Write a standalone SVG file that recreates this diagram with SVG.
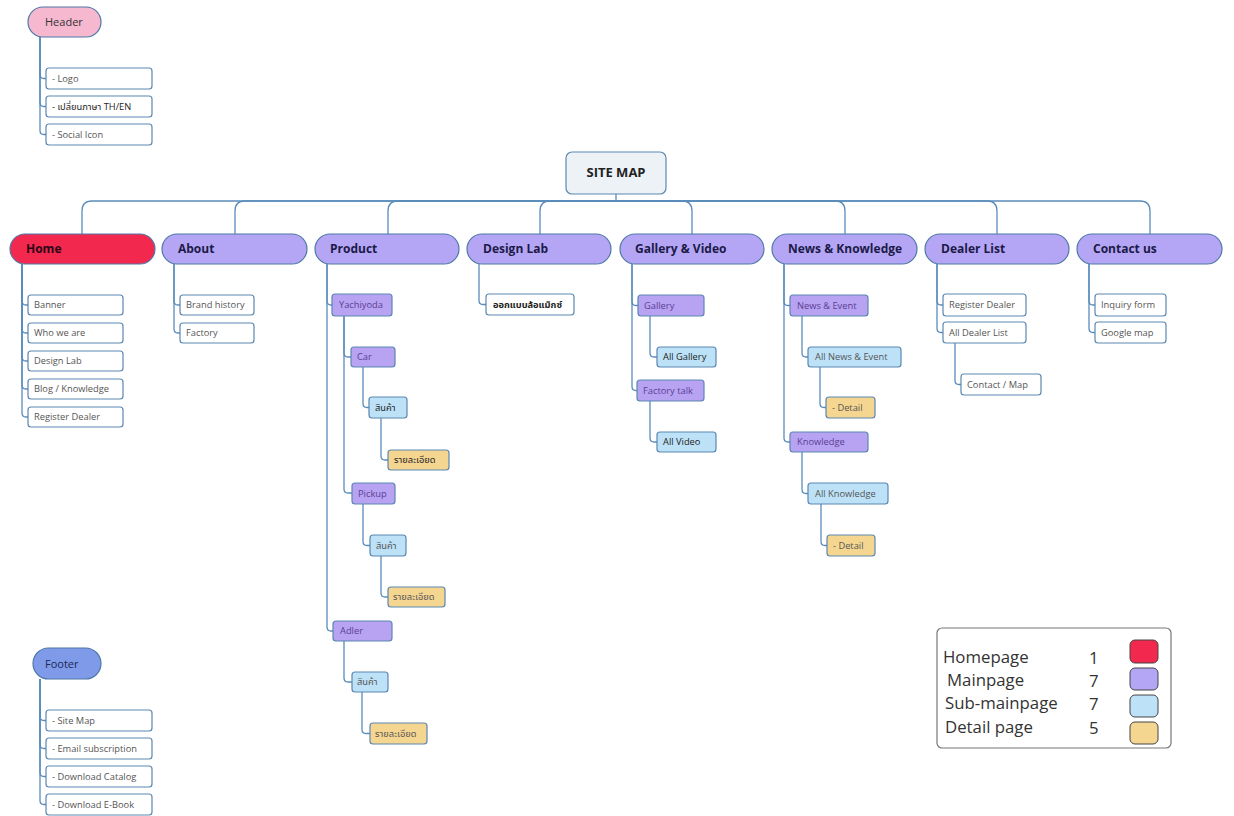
<svg xmlns="http://www.w3.org/2000/svg" width="1234" height="816" viewBox="0 0 1234 816">
<style>
.conn{fill:none;stroke:#5a8cba;stroke-width:1.3}
.pill{stroke:#4f79a6;stroke-width:1.2}
.bx{stroke:#5b87b2;stroke-width:1.2}
.w{fill:#ffffff}.p{fill:#b8a2f2}.b{fill:#bde2f8}.y{fill:#f5d691}
.mt{font-family:"Open Sans","Noto Sans","Noto Sans Thai",sans-serif;font-size:12px;font-weight:bold;fill:#1b1a48}
.st{font-family:"Open Sans","Noto Sans","Noto Sans Thai",sans-serif;font-size:9.3px;fill:#555}
.pt{fill:#5a3f92}
.dk{fill:#222}
.lg{font-family:"Open Sans","Noto Sans",sans-serif;font-size:16.8px;fill:#333}
</style>
<rect width="1234" height="816" fill="#ffffff"/>
<g id="connectors">
<path class="conn" d="M616 194V201H92Q82 201 82 211V234"/>
<path class="conn" d="M616 201H245Q235 201 235 211V234"/>
<path class="conn" d="M616 201H398Q388 201 388 211V234"/>
<path class="conn" d="M616 201H550Q540 201 540 211V234"/>
<path class="conn" d="M616 201H682Q692 201 692 211V234"/>
<path class="conn" d="M616 201H835Q845 201 845 211V234"/>
<path class="conn" d="M616 201H987Q997 201 997 211V234"/>
<path class="conn" d="M616 201H1140Q1150 201 1150 211V234"/>
<path class="conn" d="M40 37V74.5Q40 78.5 44 78.5H46"/>
<path class="conn" d="M40 37V102.5Q40 106.5 44 106.5H46"/>
<path class="conn" d="M40 37V130.5Q40 134.5 44 134.5H46"/>
<path class="conn" d="M22 264V301Q22 305 26 305H28"/>
<path class="conn" d="M22 264V329Q22 333 26 333H28"/>
<path class="conn" d="M22 264V357Q22 361 26 361H28"/>
<path class="conn" d="M22 264V385Q22 389 26 389H28"/>
<path class="conn" d="M22 264V413Q22 417 26 417H28"/>
<path class="conn" d="M174 264V301Q174 305 178 305H180"/>
<path class="conn" d="M174 264V329Q174 333 178 333H180"/>
<path class="conn" d="M327 264V301Q327 305 331 305H332"/>
<path class="conn" d="M327 264V627Q327 631 331 631H333"/>
<path class="conn" d="M344 316V353Q344 357 348 357H351"/>
<path class="conn" d="M344 316V489Q344 493 348 493H352"/>
<path class="conn" d="M363 367V403.5Q363 407.5 367 407.5H369"/>
<path class="conn" d="M381 418V456Q381 460 385 460H388"/>
<path class="conn" d="M363 504V541.5Q363 545.5 367 545.5H370"/>
<path class="conn" d="M381 556V593Q381 597 385 597H388"/>
<path class="conn" d="M344 641V678Q344 682 348 682H352"/>
<path class="conn" d="M362 692V729.5Q362 733.5 366 733.5H370"/>
<path class="conn" d="M479 264V300.5Q479 304.5 483 304.5H486"/>
<path class="conn" d="M632 264V301.5Q632 305.5 636 305.5H638"/>
<path class="conn" d="M632 264V386.5Q632 390.5 636 390.5H637"/>
<path class="conn" d="M650 316V353Q650 357 654 357H657"/>
<path class="conn" d="M650 401V438Q650 442 654 442H657"/>
<path class="conn" d="M784 264V301.5Q784 305.5 788 305.5H790"/>
<path class="conn" d="M784 264V438Q784 442 788 442H790"/>
<path class="conn" d="M802 316V353Q802 357 806 357H808"/>
<path class="conn" d="M820 367V403.5Q820 407.5 824 407.5H826"/>
<path class="conn" d="M802 452V489.5Q802 493.5 806 493.5H808"/>
<path class="conn" d="M821 504V541.5Q821 545.5 825 545.5H827"/>
<path class="conn" d="M937 264V301Q937 305 941 305H943"/>
<path class="conn" d="M937 264V328.5Q937 332.5 941 332.5H943"/>
<path class="conn" d="M955 343V380.5Q955 384.5 959 384.5H961"/>
<path class="conn" d="M1089 264V301Q1089 305 1093 305H1095"/>
<path class="conn" d="M1089 264V328.5Q1089 332.5 1093 332.5H1095"/>
<path class="conn" d="M40 679V716.5Q40 720.5 44 720.5H46"/>
<path class="conn" d="M40 679V744.5Q40 748.5 44 748.5H46"/>
<path class="conn" d="M40 679V772.5Q40 776.5 44 776.5H46"/>
<path class="conn" d="M40 679V800.5Q40 804.5 44 804.5H46"/>
</g>

<g id="header">
<rect class="pill" x="28" y="7" width="73" height="30" rx="15" fill="#f5b8cf"/>
<text x="45" y="26" class="st" style="font-size:11px;fill:#333">Header</text>
</g>
<g id="header-logo"><rect class="bx w" x="46" y="68" width="106" height="21" rx="3"/><text class="st" x="52" y="81.5">- Logo</text></g>
<g id="header-lang"><rect class="bx w" x="46" y="96" width="106" height="21" rx="3"/><text class="st dk" x="52" y="109.5">- เปลี่ยนภาษา TH/EN</text></g>
<g id="header-social"><rect class="bx w" x="46" y="124" width="106" height="21" rx="3"/><text class="st" x="52" y="137.5">- Social Icon</text></g>

<g id="sitemap">
<rect x="566" y="152" width="100" height="42" rx="6" fill="#edf2f7" stroke="#5b87b2" stroke-width="1.2"/>
<text x="616" y="177" class="mt" text-anchor="middle" style="font-size:13px;fill:#222">SITE MAP</text>
</g>

<g id="home"><rect class="pill" x="10" y="234" width="145" height="30" rx="15" fill="#f2284f"/><text class="mt" x="26" y="253" style="fill:#2a0716">Home</text></g>
<g id="about"><rect class="pill" x="162" y="234" width="145" height="30" rx="15" fill="#b5a6f5"/><text class="mt" x="178" y="253">About</text></g>
<g id="product"><rect class="pill" x="315" y="234" width="144" height="30" rx="15" fill="#b5a6f5"/><text class="mt" x="330" y="253">Product</text></g>
<g id="designlab"><rect class="pill" x="467" y="234" width="144" height="30" rx="15" fill="#b5a6f5"/><text class="mt" x="483" y="253">Design Lab</text></g>
<g id="gallery"><rect class="pill" x="620" y="234" width="144" height="30" rx="15" fill="#b5a6f5"/><text class="mt" x="635" y="253">Gallery &amp; Video</text></g>
<g id="news"><rect class="pill" x="772" y="234" width="145" height="30" rx="15" fill="#b5a6f5"/><text class="mt" x="788" y="253">News &amp; Knowledge</text></g>
<g id="dealer"><rect class="pill" x="925" y="234" width="144" height="30" rx="15" fill="#b5a6f5"/><text class="mt" x="941" y="253">Dealer List</text></g>
<g id="contact"><rect class="pill" x="1077" y="234" width="145" height="30" rx="15" fill="#b5a6f5"/><text class="mt" x="1093" y="253">Contact us</text></g>

<g id="home-banner"><rect class="bx w" x="28" y="295" width="95" height="20" rx="3"/><text class="st" x="34" y="308.2">Banner</text></g>
<g id="home-who"><rect class="bx w" x="28" y="323" width="95" height="20" rx="3"/><text class="st" x="34" y="336.2">Who we are</text></g>
<g id="home-design"><rect class="bx w" x="28" y="351" width="95" height="20" rx="3"/><text class="st" x="34" y="364.2">Design Lab</text></g>
<g id="home-blog"><rect class="bx w" x="28" y="379" width="95" height="20" rx="3"/><text class="st" x="34" y="392.2">Blog / Knowledge</text></g>
<g id="home-register"><rect class="bx w" x="28" y="407" width="95" height="20" rx="3"/><text class="st" x="34" y="420.2">Register Dealer</text></g>

<g id="about-brand"><rect class="bx w" x="180" y="295" width="74" height="20" rx="3"/><text class="st" x="186" y="308.2">Brand history</text></g>
<g id="about-factory"><rect class="bx w" x="180" y="323" width="74" height="20" rx="3"/><text class="st" x="186" y="336.2">Factory</text></g>

<g id="p-yachiyoda"><rect class="bx p" x="332" y="294" width="60" height="22" rx="3"/><text class="st pt" x="339" y="308.2">Yachiyoda</text></g>
<g id="p-car"><rect class="bx p" x="351" y="347" width="44" height="20" rx="3"/><text class="st pt" x="357" y="360.2">Car</text></g>
<g id="p-car-product"><rect class="bx b" x="369" y="397" width="38" height="21" rx="3"/><text class="st dk" x="375" y="410.7">สินค้า</text></g>
<g id="p-car-detail"><rect class="bx y" x="388" y="450" width="61" height="20" rx="3"/><text class="st dk" x="394" y="463.2">รายละเอียด</text></g>
<g id="p-pickup"><rect class="bx p" x="352" y="483" width="43" height="21" rx="3"/><text class="st pt" x="358" y="496.7">Pickup</text></g>
<g id="p-pickup-product"><rect class="bx b" x="370" y="535" width="36" height="21" rx="3"/><text class="st" x="376" y="548.7">สินค้า</text></g>
<g id="p-pickup-detail"><rect class="bx y" x="388" y="587" width="57" height="20" rx="3"/><text class="st" x="393" y="600.2">รายละเอียด</text></g>
<g id="p-adler"><rect class="bx p" x="333" y="621" width="59" height="20" rx="3"/><text class="st pt" x="340" y="634.2">Adler</text></g>
<g id="p-adler-product"><rect class="bx b" x="352" y="672" width="36" height="20" rx="3"/><text class="st" x="357" y="685.2">สินค้า</text></g>
<g id="p-adler-detail"><rect class="bx y" x="370" y="723" width="57" height="21" rx="3"/><text class="st" x="375" y="736.7">รายละเอียด</text></g>

<g id="dl-wheel"><rect class="bx w" x="486" y="294" width="88" height="21" rx="3"/><text class="st dk" x="493" y="307.7" style="font-weight:bold">ออกแบบล้อแม็กซ์</text></g>

<g id="g-gallery"><rect class="bx p" x="638" y="295" width="66" height="21" rx="3"/><text class="st pt" x="644" y="308.7">Gallery</text></g>
<g id="g-allgallery"><rect class="bx b" x="657" y="347" width="59" height="20" rx="3"/><text class="st dk" x="663" y="360.2">All Gallery</text></g>
<g id="g-factorytalk"><rect class="bx p" x="637" y="380" width="67" height="21" rx="3"/><text class="st pt" x="643" y="393.7">Factory talk</text></g>
<g id="g-allvideo"><rect class="bx b" x="657" y="432" width="59" height="20" rx="3"/><text class="st dk" x="663" y="445.2">All Video</text></g>

<g id="n-newsevent"><rect class="bx p" x="790" y="295" width="78" height="21" rx="3"/><text class="st pt" x="797" y="308.7">News &amp; Event</text></g>
<g id="n-allnews"><rect class="bx b" x="808" y="347" width="93" height="20" rx="3"/><text class="st" x="815" y="360.2">All News &amp; Event</text></g>
<g id="n-detail1"><rect class="bx y" x="826" y="397" width="49" height="21" rx="3"/><text class="st" x="832" y="410.7">- Detail</text></g>
<g id="n-knowledge"><rect class="bx p" x="790" y="432" width="78" height="20" rx="3"/><text class="st pt" x="797" y="445.2">Knowledge</text></g>
<g id="n-allknowledge"><rect class="bx b" x="808" y="483" width="80" height="21" rx="3"/><text class="st" x="815" y="496.7">All Knowledge</text></g>
<g id="n-detail2"><rect class="bx y" x="827" y="535" width="48" height="21" rx="3"/><text class="st" x="833" y="548.7">- Detail</text></g>

<g id="d-register"><rect class="bx w" x="943" y="294" width="83" height="22" rx="3"/><text class="st" x="949" y="308.2">Register Dealer</text></g>
<g id="d-all"><rect class="bx w" x="943" y="322" width="83" height="21" rx="3"/><text class="st" x="949" y="335.7">All Dealer List</text></g>
<g id="d-contactmap"><rect class="bx w" x="961" y="374" width="80" height="21" rx="3"/><text class="st" x="967" y="387.7">Contact / Map</text></g>

<g id="c-inquiry"><rect class="bx w" x="1095" y="294" width="71" height="22" rx="3"/><text class="st" x="1101" y="308.2">Inquiry form</text></g>
<g id="c-google"><rect class="bx w" x="1095" y="322" width="71" height="21" rx="3"/><text class="st" x="1101" y="335.7">Google map</text></g>

<g id="footer">
<rect class="pill" x="33" y="648" width="68" height="31" rx="15.5" fill="#7f9ae8"/>
<text x="45" y="667.5" class="st" style="font-size:11px;fill:#1b2a55">Footer</text>
</g>
<g id="f-sitemap"><rect class="bx w" x="46" y="710" width="106" height="21" rx="3"/><text class="st" x="52" y="723.7">- Site Map</text></g>
<g id="f-email"><rect class="bx w" x="46" y="738" width="106" height="21" rx="3"/><text class="st" x="52" y="751.7">- Email subscription</text></g>
<g id="f-catalog"><rect class="bx w" x="46" y="766" width="106" height="21" rx="3"/><text class="st" x="52" y="779.7">- Download Catalog</text></g>
<g id="f-ebook"><rect class="bx w" x="46" y="794" width="106" height="21" rx="3"/><text class="st" x="52" y="807.7">- Download E-Book</text></g>

<g id="legend">
<rect x="937" y="628" width="234" height="120" rx="5" fill="#fff" stroke="#777" stroke-width="1.2"/>
<text class="lg" x="943" y="663">Homepage</text>
<text class="lg" x="947" y="686">Mainpage</text>
<text class="lg" x="945" y="709">Sub-mainpage</text>
<text class="lg" x="945" y="733">Detail page</text>
<text class="lg" x="1089" y="664">1</text>
<text class="lg" x="1089" y="687">7</text>
<text class="lg" x="1089" y="710">7</text>
<text class="lg" x="1089" y="734">5</text>
<rect x="1130" y="640" width="28" height="23" rx="5" fill="#f2284f" stroke="#444" stroke-width="1"/>
<rect x="1130" y="668" width="28" height="22" rx="5" fill="#b5a6f5" stroke="#444" stroke-width="1"/>
<rect x="1130" y="695" width="28" height="22" rx="5" fill="#bde2f8" stroke="#444" stroke-width="1"/>
<rect x="1130" y="722" width="28" height="22" rx="5" fill="#f5d691" stroke="#444" stroke-width="1"/>
</g>
</svg>
